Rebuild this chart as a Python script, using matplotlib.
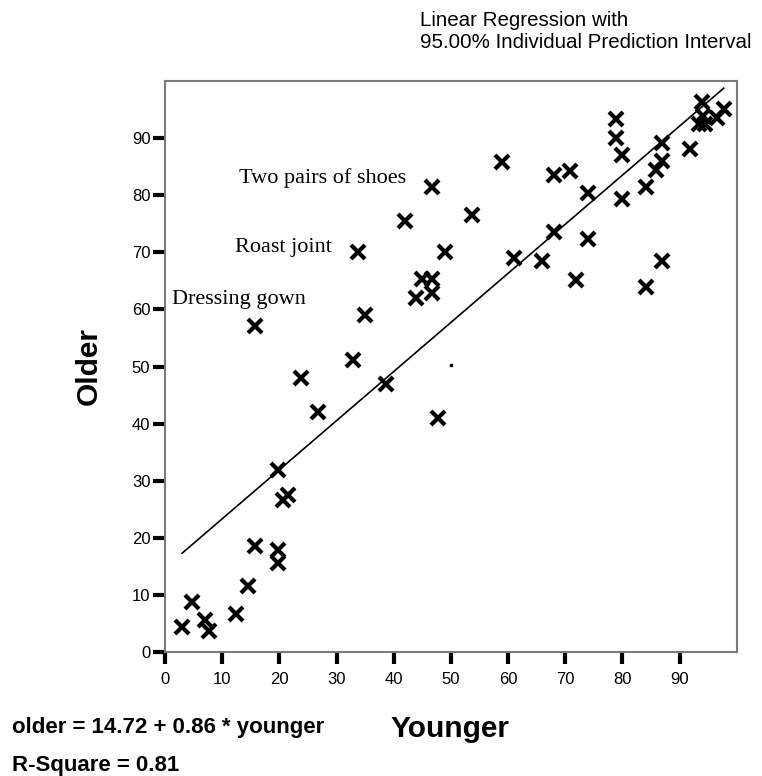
import matplotlib
matplotlib.use("Agg")
import matplotlib.pyplot as plt
import numpy as np

younger = [3.0, 4.8, 7.0, 7.7, 12.5, 14.5, 15.7, 19.8, 19.8, 19.8, 20.6, 21.6,
           23.7, 26.8, 38.7, 47.8,
           46.7, 41.9, 33.7, 48.9, 45.0, 46.7, 46.7, 43.9, 34.9, 15.7, 32.8,
           59.0, 53.7, 68.1, 70.9, 74.0, 78.8, 78.8, 79.9, 79.9, 86.9, 86.9,
           85.8, 84.1, 91.8, 93.9, 93.3, 94.4, 94.0, 97.7, 96.6, 68.1, 74.0,
           61.1, 65.9, 71.8, 86.9, 84.1]
older = [4.4, 8.7, 5.6, 3.7, 6.6, 11.5, 18.6, 17.9, 15.6, 31.9, 26.7, 27.5,
         47.9, 42.0, 47.0, 41.0,
         81.5, 75.5, 70.0, 70.0, 65.3, 65.3, 62.9, 62.0, 59.1, 57.1, 51.1,
         85.9, 76.5, 83.5, 84.3, 80.3, 93.3, 90.1, 87.0, 79.3, 89.2, 86.0,
         84.4, 81.5, 88.1, 96.4, 92.5, 92.5, 93.8, 95.1, 93.5, 73.5, 72.3,
         69.0, 68.4, 65.1, 68.4, 64.0]

intercept = 14.72
slope = 0.86
r_square = 0.81

labels = ["Two pairs of shoes", "Roast joint", "Dressing gown"]
label_x = [46.7, 33.7, 15.7]
label_y = [81.5, 70.0, 57.1]

stray_x = [50.0]
stray_y = [50.2]

xticks = list(range(0, 100, 10))
yticks = list(range(0, 100, 10))

fig = plt.figure(figsize=(7.62, 7.76), dpi=100)
ax = fig.add_axes([0.2165, 0.1598, 0.967 - 0.2165, 0.8956 - 0.1598])
ax.set_xlim(0, 100)
ax.set_ylim(0, 100)

ax.plot(younger, older, linestyle="none", marker="x", color="black",
        markersize=9.5, markeredgewidth=3, clip_on=False)
ax.plot(stray_x, stray_y, linestyle="none", marker="s", color="black",
        markersize=1.5)

xl = np.array([min(younger), max(younger)])
ax.plot(xl, intercept + slope * xl, color="black", linewidth=1.2)

# annotation text offsets (left edge of text relative to the point)
offs = [(-33.8, 1.5), (-21.4, 0.9), (-14.5, 4.7)]
for t, x, y, (dx, dy) in zip(labels, label_x, label_y, offs):
    ax.text(x + dx, y + dy, t, fontsize=16, family="Liberation Serif",
            ha="left", va="center")

for s in ax.spines.values():
    s.set_color("#7a7a7a")
    s.set_linewidth(1.5)

ax.set_xticks(xticks)
ax.set_yticks(yticks)
ax.tick_params(axis="both", direction="out", length=8.5, width=3,
               color="black", labelsize=12, pad=2)
ax.tick_params(axis="x", pad=6)
for lab in ax.get_xticklabels() + ax.get_yticklabels():
    lab.set_family("Liberation Sans")

fig.text(450 / 762, 1 - 729 / 776, "Younger", fontsize=21.5, fontweight="bold",
         family="Liberation Sans", ha="center", va="center")
fig.text(89 / 762, 1 - 366 / 776, "Older", fontsize=21.5, fontweight="bold",
         family="Liberation Sans", ha="center", va="center", rotation=90)

fig.text(420 / 762, 1 - 20 / 776, "Linear Regression with", fontsize=14.8,
         family="Liberation Sans", ha="left", va="center")
fig.text(420 / 762, 1 - 43 / 776, "95.00% Individual Prediction Interval",
         fontsize=14.8, family="Liberation Sans", ha="left", va="center")

fig.text(12 / 762, 1 - 728 / 776,
         f"older = {intercept:.2f} + {slope:.2f} * younger",
         fontsize=16, fontweight="bold", family="Liberation Sans",
         ha="left", va="center")
fig.text(12 / 762, 1 - 766 / 776, f"R-Square = {r_square:.2f}",
         fontsize=16, fontweight="bold", family="Liberation Sans",
         ha="left", va="center")

fig.savefig("out.png", dpi=100)
